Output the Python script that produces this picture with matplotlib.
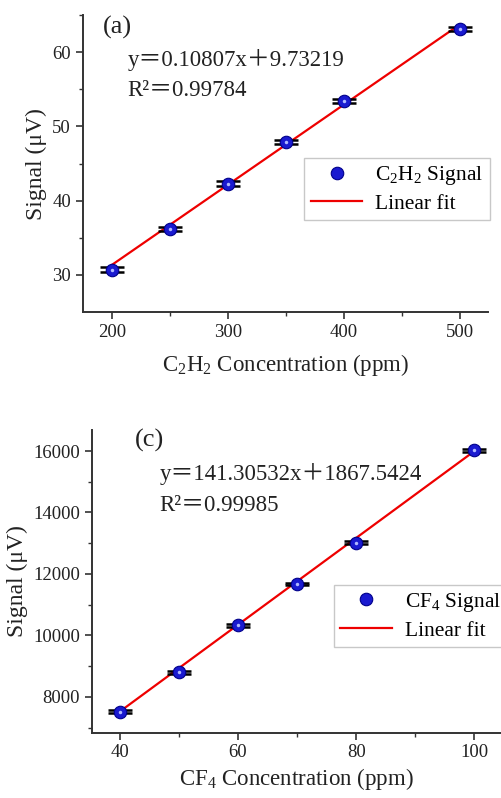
import matplotlib
matplotlib.use("Agg")
import matplotlib.pyplot as plt
import numpy as np

plt.rcParams['font.family'] = ['Liberation Serif', 'Noto Sans CJK SC']
plt.rcParams['mathtext.fontset'] = 'custom'
plt.rcParams['mathtext.rm'] = 'Liberation Serif'
plt.rcParams['mathtext.it'] = 'Liberation Serif:italic'

# panel (a): C2H2
c2h2_conc = [200, 250, 300, 350, 400, 500]
c2h2_signal = [30.7, 36.2, 42.3, 47.9, 53.4, 63.1]
c2h2_err = [0.35, 0.3, 0.3, 0.3, 0.3, 0.3]
c2h2_fit = [0.10807, 9.73219]

# panel (c): CF4
cf4_conc = [40, 50, 60, 70, 80, 100]
cf4_signal = [7520, 8800, 10330, 11680, 13020, 16020]
cf4_err = [40, 40, 40, 40, 40, 40]
cf4_fit = [141.30532, 1867.5424]

fig = plt.figure(figsize=(5.02, 7.98), dpi=100)
ax1 = fig.add_axes([0.165, 0.609, 0.807, 0.372])
ax2 = fig.add_axes([0.183, 0.082, 0.815, 0.379])


def draw(ax, x, y, err, fit, xlim, ylim, xticks, yticks, xminor, yminor,
         label, tag, eq, r2, xlab, legpos, eqpos, xpad):
    xs = np.array([x[0], x[-1]])
    ax.plot(xs, fit[0] * xs + fit[1], color='#ee0000', lw=1.6, zorder=2,
            label='Linear fit')
    ax.errorbar(x, y, yerr=err, fmt='none', ecolor='black', elinewidth=1.2,
                capsize=8.5, capthick=1.8, zorder=3)
    ax.plot(x, y, 'o', ms=9, color='#1a1ad0', mec='#00008a', mew=0.8,
            zorder=4, label=label)
    ax.plot(x, y, 'o', ms=2.5, color='#b0b8ff', mew=0, zorder=5)
    ax.set_xlim(*xlim)
    ax.set_ylim(*ylim)
    ax.set_xticks(xticks)
    ax.set_yticks(yticks)
    ax.set_xticks(xminor, minor=True)
    ax.set_yticks(yminor, minor=True)
    for s in ['top', 'right']:
        ax.spines[s].set_visible(False)
    for s in ['left', 'bottom']:
        ax.spines[s].set_linewidth(1.4)
        ax.spines[s].set_color('#333333')
    ax.tick_params(which='major', direction='out', length=5, width=1.2,
                   labelsize=13.5, colors='#333333', labelcolor='#222222')
    ax.tick_params(which='minor', direction='out', length=3, width=1.0,
                   colors='#333333')
    ax.set_xlabel(xlab, fontsize=16.5, labelpad=xpad, color='#222222')
    ax.set_ylabel('Signal (μV)', fontsize=17, color='#222222')
    ax.text(eqpos[0], eqpos[1], tag, transform=ax.transAxes, fontsize=19,
            ha='left', va='center', color='#222222')
    ax.text(eqpos[0] + 0.06, eqpos[1] - 0.11, eq, transform=ax.transAxes,
            fontsize=16.5, ha='left', va='center', color='#222222')
    ax.text(eqpos[0] + 0.06, eqpos[1] - 0.215, r2, transform=ax.transAxes,
            fontsize=16.5, ha='left', va='center', color='#222222')
    h, l = ax.get_legend_handles_labels()
    leg = ax.legend(h[::-1], l[::-1], loc='upper left', bbox_to_anchor=legpos,
                    fontsize=15.5, frameon=True, fancybox=False,
                    edgecolor='#bbbbbb', handlelength=2.4, borderpad=0.3,
                    labelspacing=0.3, handletextpad=0.6)
    leg.get_frame().set_linewidth(1.0)


draw(ax1, c2h2_conc, c2h2_signal, c2h2_err, c2h2_fit,
     (175, 524), (25, 65), [200, 300, 400, 500], [30, 40, 50, 60],
     [250, 350, 450], [35, 45, 55, 65],
     'C$_2$H$_2$ Signal', '(a)', 'y＝0.10807x＋9.73219', 'R²＝0.99784',
     'C$_2$H$_2$ Concentration (ppm)', (0.52, 0.555), (0.05, 0.96), 8)

draw(ax2, cf4_conc, cf4_signal, cf4_err, cf4_fit,
     (35.3, 104.5), (6840, 16680), [40, 60, 80, 100],
     [8000, 10000, 12000, 14000, 16000],
     [50, 70, 90], [7000, 9000, 11000, 13000, 15000],
     'CF$_4$ Signal', '(c)', 'y＝141.30532x＋1867.5424', 'R²＝0.99985',
     'CF$_4$ Concentration (ppm)', (0.565, 0.525), (0.105, 0.965), 3)

fig.savefig('out.png', dpi=100)
